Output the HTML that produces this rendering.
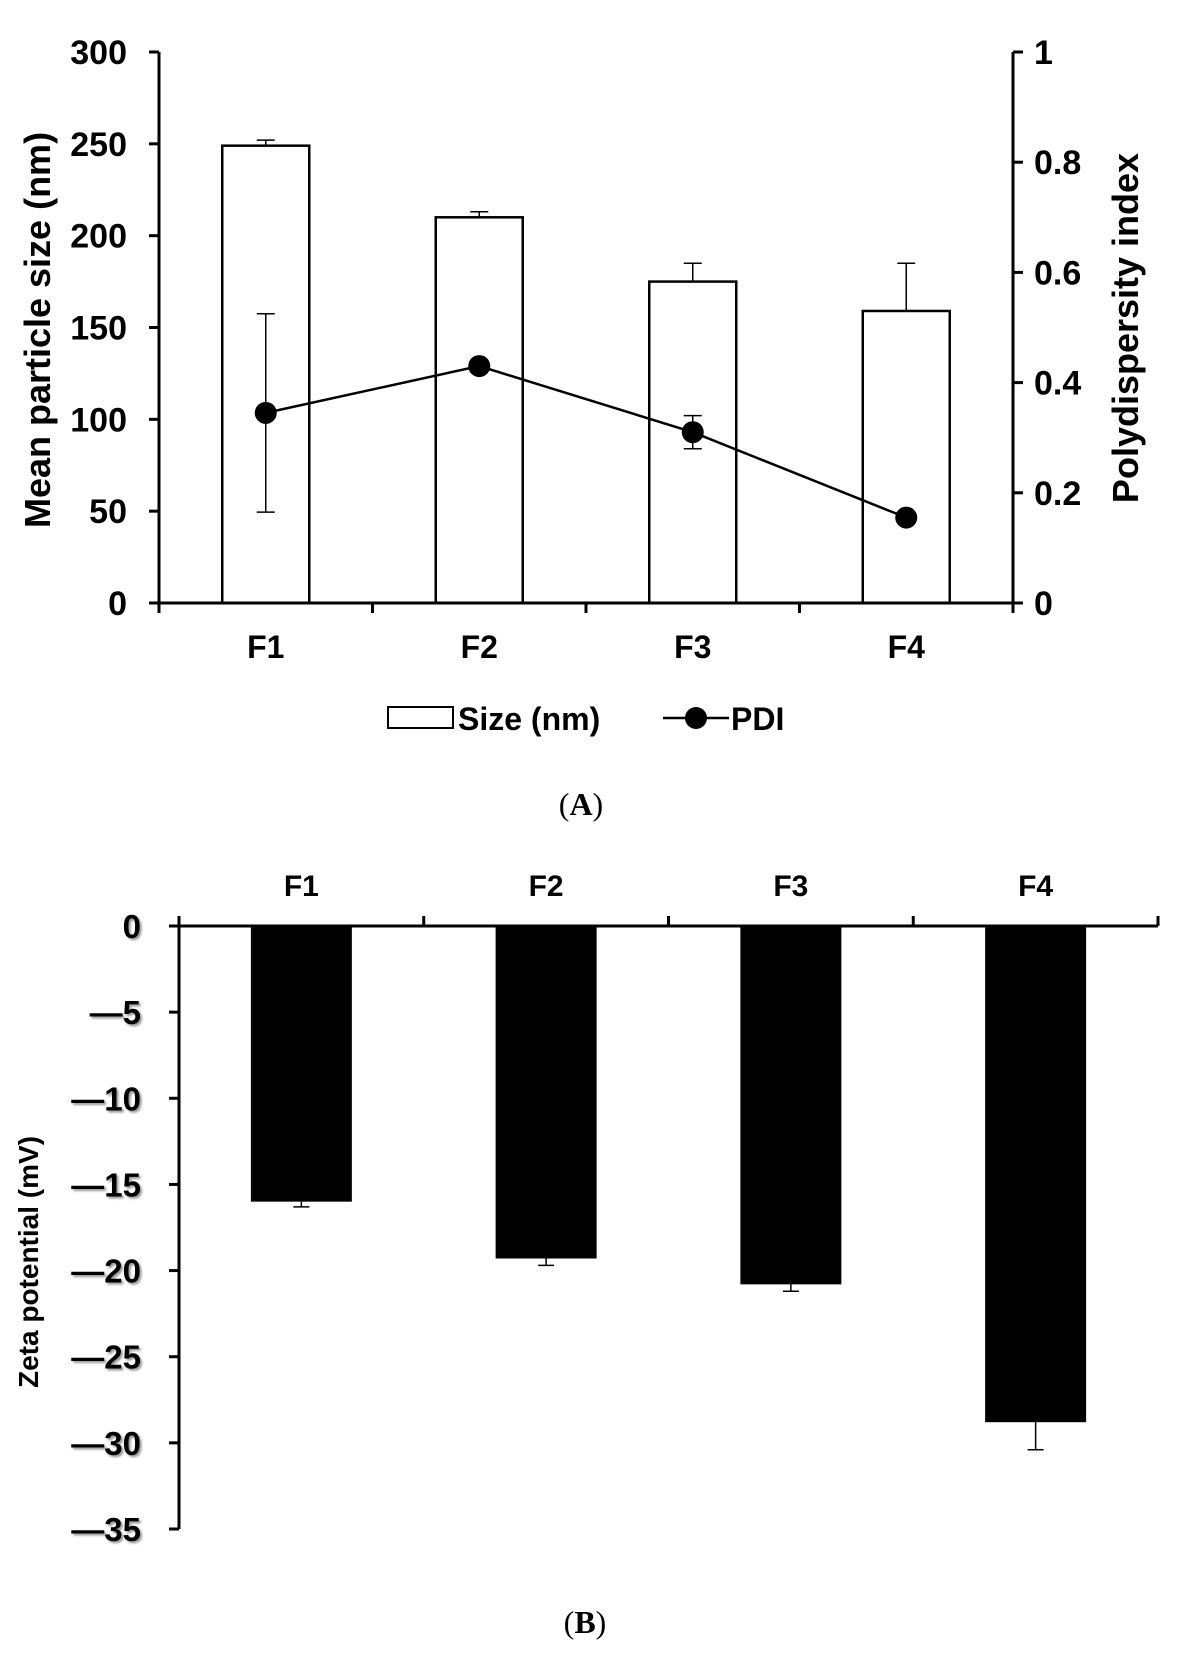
<!DOCTYPE html>
<html><head><meta charset="utf-8"><style>
html,body{margin:0;padding:0;background:#fff;}
svg{display:block;font-family:"Liberation Sans",Arial,sans-serif;}
</style></head><body>
<svg id="chart" width="1202" height="1653" viewBox="0 0 1202 1653" xmlns="http://www.w3.org/2000/svg">
<g id="ga"></g>
<g id="gb"></g>
<text x="581" y="815" text-anchor="middle" font-family="Liberation Serif,serif" font-size="32">(<tspan font-weight="bold">A</tspan>)</text>
<text x="585" y="1633" text-anchor="middle" font-family="Liberation Serif,serif" font-size="32">(<tspan font-weight="bold">B</tspan>)</text>
</svg>
<script>
const categories = ["F1","F2","F3","F4"];
const sizeVals = [249, 210, 175, 159];
const sizeErr = [3, 3, 10, 26];
const pdiVals = [0.345, 0.43, 0.31, 0.155];
const pdiErr = [0.18, 0, 0.03, 0];
const sizeTicks = [0,50,100,150,200,250,300];
const pdiTicks = [0,0.2,0.4,0.6,0.8,1];
const pdiTickLabels = ["0","0.2","0.4","0.6","0.8","1"];
const zetaVals = [-16.0, -19.3, -20.8, -28.8];
const zetaErr = [0.3, 0.4, 0.4, 1.6];
const zetaTicks = [0,-5,-10,-15,-20,-25,-30,-35];
const zetaTickLabels = ["0","\u20145","\u201410","\u201415","\u201420","\u201425","\u201430","\u201435"];

const NS="http://www.w3.org/2000/svg";
function mk(parent,tag,attrs,text){const e=document.createElementNS(NS,tag);for(const k in attrs)e.setAttribute(k,attrs[k]);if(text!==undefined)e.textContent=text;parent.appendChild(e);return e;}

// ---- Chart A ----
const ga=document.getElementById('ga');
const aL=159,aR=1013,aT=52,aB=603;
const yA=v=>aB-(v/300)*(aB-aT);
const yP=v=>aB-v*(aB-aT);
const bandA=(aR-aL)/4;
const xA=i=>aL+bandA*(i+0.5);
let e;
for(let i=0;i<categories.length;i++){
  const x=xA(i),w=87;
  e=mk(ga,'rect',{x:x-w/2,y:yA(sizeVals[i]),width:w,height:aB-yA(sizeVals[i]),fill:'#fff',stroke:'#000','stroke-width':2.5});
  
  
  e=mk(ga,'path',{d:`M${x},${yA(sizeVals[i])}V${yA(sizeVals[i]+sizeErr[i])}M${x-9},${yA(sizeVals[i]+sizeErr[i])}H${x+9}`,stroke:'#000','stroke-width':1.5,fill:'none'});
  
  
}
let d='';
pdiVals.forEach((v,i)=>{d+=(i?'L':'M')+xA(i)+','+yP(v);});
e=mk(ga,'path',{d:d,stroke:'#000','stroke-width':2.5,fill:'none'});


for(let i=0;i<categories.length;i++){
  const x=xA(i);
  if(pdiErr[i]>0){
    const t=yP(pdiVals[i]+pdiErr[i]),b=yP(pdiVals[i]-pdiErr[i]);
    e=mk(ga,'path',{d:`M${x},${t}V${b}M${x-9},${t}H${x+9}M${x-9},${b}H${x+9}`,stroke:'#000','stroke-width':1.5,fill:'none'});
    
    
  }
  e=mk(ga,'circle',{cx:x,cy:yP(pdiVals[i]),r:11,fill:'#000'});
  
  
}
e=mk(ga,'path',{d:`M${aL},${aT}V${aB}H${aR}V${aT}`,stroke:'#000','stroke-width':3,fill:'none'});


sizeTicks.forEach(v=>{
  mk(ga,'line',{x1:aL-10,x2:aL,y1:yA(v),y2:yA(v),stroke:'#000','stroke-width':3});
  e=mk(ga,'text',{x:127,y:yA(v)+12,'text-anchor':'end','font-size':34,'font-weight':'bold'},String(v));
  
  
});
pdiTicks.forEach((v,i)=>{
  mk(ga,'line',{x1:aR,x2:aR+10,y1:yP(v),y2:yP(v),stroke:'#000','stroke-width':3});
  e=mk(ga,'text',{x:1034,y:yP(v)+12,'font-size':34,'font-weight':'bold'},pdiTickLabels[i]);
  
  
});
for(let i=0;i<=4;i++){mk(ga,'line',{x1:aL+bandA*i,x2:aL+bandA*i,y1:aB,y2:aB+10,stroke:'#000','stroke-width':3});}
categories.forEach((c,i)=>{
  e=mk(ga,'text',{x:xA(i),y:658,'text-anchor':'middle','font-size':32,'font-weight':'bold'},c);
  
  
});
e=mk(ga,'text',{x:0,y:0,transform:'translate(50,330) rotate(-90)','text-anchor':'middle','font-size':36,'font-weight':'bold'},'Mean particle size (nm)');


e=mk(ga,'text',{x:0,y:0,transform:'translate(1138,328) rotate(-90)','text-anchor':'middle','font-size':36,'font-weight':'bold'},'Polydispersity index');


e=mk(ga,'rect',{x:388,y:707,width:65,height:21,fill:'#fff',stroke:'#000','stroke-width':2});


e=mk(ga,'text',{x:458,y:730,'font-size':32,'font-weight':'bold'},'Size (nm)');


mk(ga,'line',{x1:663,x2:729,y1:718,y2:718,stroke:'#000','stroke-width':2.5});
e=mk(ga,'circle',{cx:696,cy:718,r:11,fill:'#000'});


e=mk(ga,'text',{x:731,y:730,'font-size':32,'font-weight':'bold'},'PDI');



// ---- Chart B ----
const gb=document.getElementById('gb');
const bL=179,bR=1158,bT=926,bB=1529;
const yZ=v=>bT+(-v/35)*(bB-bT);
const bandB=(bR-bL)/4;
const xB=i=>bL+bandB*(i+0.5);
for(let i=0;i<categories.length;i++){
  const x=xB(i),w=101;
  e=mk(gb,'rect',{x:x-w/2,y:bT,width:w,height:yZ(zetaVals[i])-bT,fill:'#000'});
  
  
  const eb=yZ(zetaVals[i]-zetaErr[i]);
  e=mk(gb,'path',{d:`M${x},${yZ(zetaVals[i])}V${eb}M${x-8},${eb}H${x+8}`,stroke:'#000','stroke-width':1.5,fill:'none'});
  
  
}
e=mk(gb,'path',{d:`M${bL},${bB}V${bT}H${bR}`,stroke:'#000','stroke-width':3,fill:'none'});


zetaTicks.forEach((v,i)=>{
  mk(gb,'line',{x1:bL-10,x2:bL,y1:yZ(v),y2:yZ(v),stroke:'#000','stroke-width':3});
  e=mk(gb,'text',{x:141,y:yZ(v)+12,'text-anchor':'end','font-size':33,'font-weight':'bold',style:'text-shadow:2px 2px 2px #999'},zetaTickLabels[i]);
  
  
});
for(let i=0;i<=4;i++){mk(gb,'line',{x1:bL+bandB*i,x2:bL+bandB*i,y1:bT-10,y2:bT,stroke:'#000','stroke-width':3});}
categories.forEach((c,i)=>{
  e=mk(gb,'text',{x:xB(i),y:896,'text-anchor':'middle','font-size':30,'font-weight':'bold'},c);
  
  
});
e=mk(gb,'text',{x:0,y:0,transform:'translate(38,1262) rotate(-90)','text-anchor':'middle','font-size':28,'font-weight':'bold'},'Zeta potential (mV)');


</script>
</body></html>
